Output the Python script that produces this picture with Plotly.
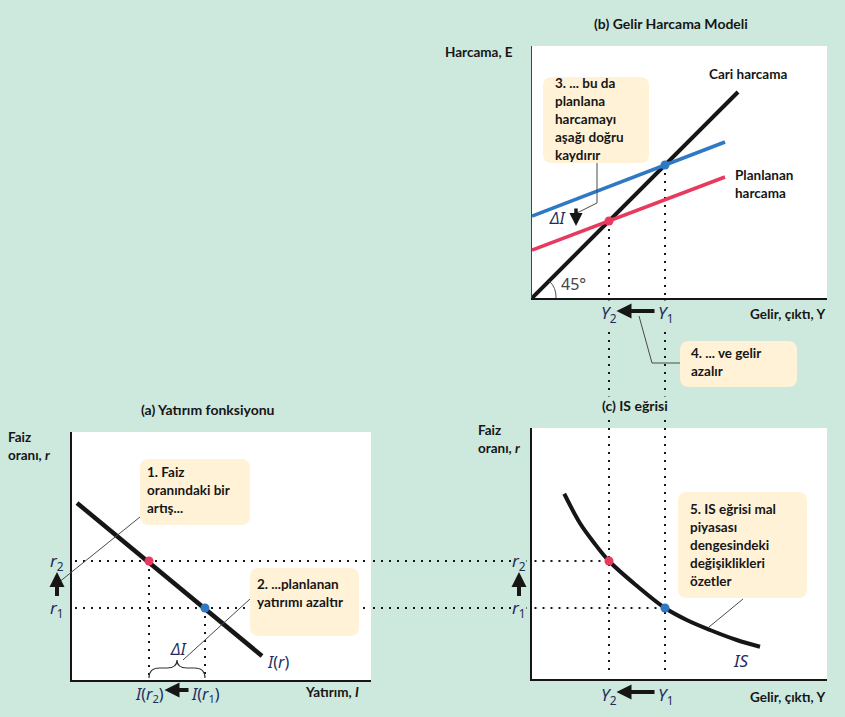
import plotly.graph_objects as go

# ---------------- data ----------------
# (b) income-expenditure model
Y1 = 5.32
Y2 = 3.08
actual_x = [0, 8.24]
actual_y = [0, 8.24]
planned_hi_x = [0, 7.72]
planned_hi_y = [3.28, 6.24]
planned_lo_x = [0, 7.72]
planned_lo_y = [1.92, 4.84]

# (a) investment function
r1 = 2.88
r2 = 4.76
I_r1 = 5.32
I_r2 = 3.08
inv_x = [0.2, 7.6]
inv_y = [7.08, 0.96]

# (c) IS curve
IS_x = [1.29, 1.92, 2.45, 3.08, 4.19, 5.32, 6.19, 7.12, 8.19, 9.12]
IS_y = [7.45, 6.27, 5.53, 4.76, 3.77, 2.88, 2.40, 2.00, 1.60, 1.33]

# ---------------- styling ----------------
W, H = 845, 717
BG = "#CDE8DC"
BOX = "#FFF2D6"
BLUE = "#2F78C4"
RED = "#E8395F"
INK = "#161616"
NAVY = "#1F2D5C"
FONT = "Lato"
MATH = "Noto Sans"
TS = 13.5


def px(x):
    return x / W


def py(y):
    return 1 - y / H


fig = go.Figure()

# (b)
fig.add_trace(go.Scatter(x=actual_x, y=actual_y, mode="lines", line=dict(color=INK, width=4),
                         xaxis="x", yaxis="y", hoverinfo="skip"))
fig.add_trace(go.Scatter(x=planned_hi_x, y=planned_hi_y, mode="lines", line=dict(color=BLUE, width=3.5),
                         xaxis="x", yaxis="y", hoverinfo="skip"))
fig.add_trace(go.Scatter(x=planned_lo_x, y=planned_lo_y, mode="lines", line=dict(color=RED, width=3.5),
                         xaxis="x", yaxis="y", hoverinfo="skip"))
fig.add_trace(go.Scatter(x=[Y1, Y2], y=[Y1, Y2], mode="markers",
                         marker=dict(color=[BLUE, RED], size=9), xaxis="x", yaxis="y", hoverinfo="skip"))
# (a)
fig.add_trace(go.Scatter(x=inv_x, y=inv_y, mode="lines", line=dict(color=INK, width=4.5),
                         xaxis="x2", yaxis="y2", hoverinfo="skip"))
fig.add_trace(go.Scatter(x=[I_r2, I_r1], y=[r2, r1], mode="markers",
                         marker=dict(color=[RED, BLUE], size=9), xaxis="x2", yaxis="y2", hoverinfo="skip"))
# (c)
fig.add_trace(go.Scatter(x=IS_x, y=IS_y, mode="lines", line=dict(color=INK, width=4, shape="spline", smoothing=1.0),
                         xaxis="x3", yaxis="y3", hoverinfo="skip"))
fig.add_trace(go.Scatter(x=[Y2, Y1], y=[r2, r1], mode="markers",
                         marker=dict(color=[RED, BLUE], size=9), xaxis="x3", yaxis="y3", hoverinfo="skip"))

ax_common = dict(showgrid=False, zeroline=False, showticklabels=False, ticks="", showline=True,
                 linecolor=INK, linewidth=2, fixedrange=True)

shapes = []
dot = dict(color=INK, width=2, dash="2px,6px")

# vertical dotted lines: (b) -> gap -> (c)
for yv in (Y1, Y2):
    shapes.append(dict(type="line", xref="x", yref="y", x0=yv, x1=yv, y0=yv, y1=0, line=dot, layer="below"))
    shapes.append(dict(type="line", xref="x", yref="paper", x0=yv, x1=yv, y0=py(300), y1=py(428), line=dot, layer="below"))
    shapes.append(dict(type="line", xref="x3", yref="y3", x0=yv, x1=yv, y0=10.08, y1=0.32, line=dot, layer="below"))
# vertical dotted in (a)
for iv, rv in ((I_r2, r2), (I_r1, r1)):
    shapes.append(dict(type="line", xref="x2", yref="y2", x0=iv, x1=iv, y0=rv, y1=0.08, line=dot, layer="below"))
# horizontal dotted: (a) -> gap -> (c)
for rv, yv in ((r2, Y2), (r1, Y1)):
    shapes.append(dict(type="line", xref="x2", yref="y2", x0=0.12, x1=11.96, y0=rv, y1=rv, line=dot, layer="below"))
    shapes.append(dict(type="line", xref="paper", yref="y2", x0=px(373), x1=px(532), y0=rv, y1=rv, line=dot, layer="below"))
    shapes.append(dict(type="line", xref="x3", yref="y3", x0=0.1, x1=yv, y0=rv, y1=rv, line=dot, layer="below"))

# 45 degree arc
shapes.append(dict(type="path", xref="x", yref="y", path="M 0.96,0 Q 0.98,0.42 0.68,0.68",
                   line=dict(color="#555", width=1)))
# brace under delta I in (a)
brace = "M {a},0.08 Q {a},0.48 {a2},0.48 L {m1},0.48 Q {m},0.48 {m},0.8 Q {m},0.48 {m2},0.48 L {b2},0.48 Q {b},0.48 {b},0.08".format(
    a=I_r2, a2=I_r2 + 0.42, m1=(I_r2 + I_r1) / 2 - 0.4, m=(I_r2 + I_r1) / 2, m2=(I_r2 + I_r1) / 2 + 0.4,
    b2=I_r1 - 0.42, b=I_r1)
shapes.append(dict(type="path", xref="x2", yref="y2", path=brace, line=dict(color="#333", width=1.2)))


def ppath(pts):
    s = ""
    for cmd, *coords in pts:
        s += cmd + " " + " ".join("{:.5f},{:.5f}".format(px(coords[i]), py(coords[i + 1]))
                                  for i in range(0, len(coords), 2)) + " "
    return s.strip()


def rrect(x0, y0, x1, y1, r=9):
    return ppath([("M", x0 + r, y0), ("L", x1 - r, y0), ("Q", x1, y0, x1, y0 + r), ("L", x1, y1 - r),
                  ("Q", x1, y1, x1 - r, y1), ("L", x0 + r, y1), ("Q", x0, y1, x0, y1 - r),
                  ("L", x0, y0 + r), ("Q", x0, y0, x0 + r, y0)]) + " Z"


boxes = [(543, 77, 649, 163), (680, 341, 797, 387), (140, 459, 250, 525), (250, 568, 359, 636), (678, 492, 807, 598)]
for b in boxes:
    shapes.append(dict(type="path", xref="paper", yref="paper", path=rrect(*b), fillcolor=BOX,
                       line=dict(width=0), layer="above"))

leaders = [
    [("M", 597, 163), ("L", 597, 203), ("L", 577, 213)],
    [("M", 680, 363), ("L", 652, 363), ("L", 639, 316)],
    [("M", 140, 517), ("L", 58, 583)],
    [("M", 250, 599), ("L", 183, 660)],
    [("M", 743, 599), ("L", 709, 627)],
]
for l in leaders:
    shapes.append(dict(type="path", xref="paper", yref="paper", path=ppath(l),
                       line=dict(color="#4a4a4a", width=1), layer="above"))

annotations = []


def txt(text, x, y, xanchor="left", size=TS, color=INK, family=FONT, bold=True, bg=None, xref="paper", yref="paper"):
    t = "<b>" + text + "</b>" if bold else text
    a = dict(text=t, x=x, y=y, xref=xref, yref=yref, xanchor=xanchor, yanchor="middle", showarrow=False,
             font=dict(size=size, color=color, family=family))
    if bg:
        a["bgcolor"] = bg
        a["borderpad"] = 0
    annotations.append(a)


# titles
txt("(b) Gelir Harcama Modeli", px(671), py(23), "center", size=14)
txt("(a) Yatırım fonksiyonu", px(208), py(409), "center", size=14)
txt("(c) IS eğrisi", px(635), py(405), "center", size=14, bg=BG)
# axis labels
txt("Harcama, E", px(443), py(52))
txt("Gelir, çıktı, Y", px(827), py(314), "right")
txt("Faiz", px(6), py(437))
txt("oranı, <i>r</i>", px(6), py(455))
txt("Yatırım, <i>I</i>", px(361), py(692), "right")
txt("Faiz", px(476), py(430))
txt("oranı, <i>r</i>", px(476), py(448))
txt("Gelir, çıktı, Y", px(827), py(697), "right")
# line labels
txt("Cari harcama", px(707), py(74))
txt("Planlanan", px(733), py(175))
txt("harcama", px(733), py(193))
txt("45°", px(559), py(284), size=16, color="#444", family=MATH, bold=False)
txt("<i>ΔI</i>", px(557), py(218), "center", size=16, color=NAVY, family=MATH, bold=False)
txt("<i>ΔI</i>", px(178), py(649), "center", size=16, color=NAVY, family=MATH, bold=False)
txt("<i>I</i>(<i>r</i>)", px(265), py(662), size=16, color=NAVY, family=MATH, bold=False)
txt("<i>IS</i>", px(731), py(660), size=17, color=NAVY, family=MATH, bold=False)

# callout texts
callouts = [
    (553, [83, 101, 119, 137, 155], ["3. ... bu da", "planlana", "harcamayı", "aşağı doğru", "kaydırır"]),
    (689, [353, 371], ["4. ... ve gelir", "azalır"]),
    (145, [472, 490, 508], ["1. Faiz", "oranındaki bir", "artış..."]),
    (255, [584, 602], ["2. ...planlanan", "yatırımı azaltır"]),
    (688, [509, 527, 545, 563, 581], ["5. IS eğrisi mal", "piyasası", "dengesindeki", "değişiklikleri", "özetler"]),
]
for x0, ys, lines in callouts:
    for yy, s in zip(ys, lines):
        txt(s, px(x0), py(yy))

# axis value labels
for yv, s in ((Y1, "1"), (Y2, "2")):
    txt("<i>Y</i><sub>" + s + "</sub>", yv, py(313), "center", size=17, color=NAVY, family=MATH, bold=False,
        bg=BG, xref="x")
    txt("<i>Y</i><sub>" + s + "</sub>", yv, py(695), "center", size=17, color=NAVY, family=MATH, bold=False,
        xref="x3")
for rv, s in ((r2, "2"), (r1, "1")):
    txt("<i>r</i><sub>" + s + "</sub>", px(57), rv, "center", size=17, color=NAVY, family=MATH, bold=False,
        yref="y2")
    txt("<i>r</i><sub>" + s + "</sub>", px(519), rv, "center", size=17, color=NAVY, family=MATH, bold=False,
        bg=BG, yref="y3")
for iv, s in ((I_r2, "2"), (I_r1, "1")):
    txt("<i>I</i>(<i>r</i><sub>" + s + "</sub>)", iv, py(694), "center", size=16, color=NAVY, family=MATH,
        bold=False, xref="x2")

# arrows
arrow = dict(text="", showarrow=True, arrowhead=2, arrowsize=0.75, arrowwidth=4, arrowcolor=INK, standoff=0,
             startstandoff=0)
annotations.append(dict(arrow, xref="x", yref="paper", x=Y2 + 0.3, y=py(311), axref="x", ax=Y1 - 0.36, ay=0))
annotations.append(dict(arrow, xref="x3", yref="paper", x=Y2 + 0.3, y=py(692), axref="x3", ax=Y1 - 0.36, ay=0))
annotations.append(dict(arrow, xref="x2", yref="paper", x=I_r2 + 0.62, y=py(690), axref="x2", ax=I_r1 - 0.6, ay=0))
annotations.append(dict(arrow, xref="paper", yref="y2", x=px(57), y=r2 - 0.44, ayref="y2", ay=r1 + 0.42, ax=0))
annotations.append(dict(arrow, xref="paper", yref="y3", x=px(519), y=r2 - 0.44, ayref="y3", ay=r1 + 0.42, ax=0))
annotations.append(dict(arrow, xref="paper", yref="paper", x=px(576), y=py(226), ax=0, ay=-19, arrowwidth=3.5))

fig.update_layout(
    width=W, height=H, autosize=False, margin=dict(l=0, r=0, t=0, b=0),
    paper_bgcolor=BG, plot_bgcolor="white", showlegend=False,
    xaxis=dict(ax_common, domain=[px(532), px(827)], range=[0, 11.8], anchor="y"),
    yaxis=dict(ax_common, domain=[py(298), py(46)], range=[0, 10.08], anchor="x", linewidth=1, linecolor="#444"),
    xaxis2=dict(ax_common, domain=[px(72), px(371)], range=[0, 11.96], anchor="y2"),
    yaxis2=dict(ax_common, domain=[py(680), py(432)], range=[0, 9.92], anchor="x2"),
    xaxis3=dict(ax_common, domain=[px(532), px(827)], range=[0, 11.8], anchor="y3"),
    yaxis3=dict(ax_common, domain=[py(679), py(428)], range=[0.04, 10.08], anchor="x3"),
    shapes=shapes, annotations=annotations,
)

fig.write_html("out.html", config={"displayModeBar": False})

# remove the default page margin so the figure sits at the window origin
with open("out.html", encoding="utf-8") as f:
    html = f.read()
html = html.replace("<head>", "<head><style>html,body{margin:0;padding:0;background:%s;}</style>" % BG, 1)
with open("out.html", "w", encoding="utf-8") as f:
    f.write(html)
